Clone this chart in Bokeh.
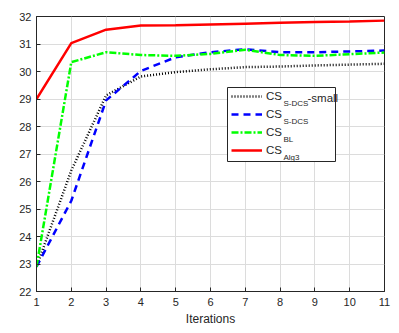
import math
from bokeh.plotting import figure
from bokeh.models import Legend, LegendItem, Label, FixedTicker, Range1d, BoxAnnotation
from bokeh.embed import file_html
from bokeh.resources import INLINE

iterations = [1, 2, 3, 4, 5, 6, 7, 8, 9, 10, 11]
cs_sdcs_small = [22.9, 26.4, 29.13, 29.82, 29.98, 30.08, 30.16, 30.18, 30.22, 30.25, 30.28]
cs_sdcs = [22.9, 25.3, 28.95, 30.02, 30.52, 30.70, 30.81, 30.70, 30.70, 30.73, 30.76]
cs_bl = [22.9, 30.34, 30.70, 30.60, 30.57, 30.64, 30.79, 30.60, 30.57, 30.63, 30.69]
cs_alg3 = [29.0, 31.03, 31.52, 31.67, 31.68, 31.71, 31.74, 31.77, 31.80, 31.82, 31.85]

x_ticks = list(range(1, 12))
y_ticks = list(range(22, 33))

FONT = "Liberation Sans"
TXT = "#262626"

p = figure(width=399, height=333, output_backend="svg", toolbar_location=None,
           x_range=Range1d(1, 11), y_range=Range1d(22, 32),
           min_border_left=36, min_border_right=15, min_border_top=16, min_border_bottom=42)

p.outline_line_color = "#262626"
p.outline_line_width = 1
p.background_fill_color = "white"

for ax in (p.xaxis, p.yaxis):
    ax.major_tick_in = 4
    ax.major_tick_out = 0
    ax.minor_tick_line_color = None
    ax.axis_line_color = "#262626"
    ax.major_tick_line_color = "#262626"
    ax.major_label_text_font = FONT
    ax.major_label_text_font_size = "11px"
    ax.major_label_text_color = TXT

p.xaxis.ticker = FixedTicker(ticks=x_ticks)
p.yaxis.ticker = FixedTicker(ticks=y_ticks)
p.xaxis.major_label_standoff = 6
p.yaxis.major_label_standoff = 5
p.xaxis.axis_label = "Iterations"
p.xaxis.axis_label_text_font = FONT
p.xaxis.axis_label_text_font_style = "normal"
p.xaxis.axis_label_text_font_size = "12px"
p.xaxis.axis_label_text_color = TXT
p.xaxis.axis_label_standoff = 3

p.xgrid.grid_line_color = "#dcdcdc"
p.ygrid.grid_line_color = "#dcdcdc"
p.xgrid.grid_line_width = 1
p.ygrid.grid_line_width = 1

r1 = p.line(iterations, cs_sdcs_small, line_color="black", line_width=2.5, line_dash="1 2")
r2 = p.line(iterations, cs_sdcs, line_color="#0000ff", line_width=2.5, line_dash="7 5")
r3 = p.line(iterations, cs_bl, line_color="#00ff00", line_width=2.5, line_dash="7 2 2 2")
r4 = p.line(iterations, cs_alg3, line_color="#ff0000", line_width=2.5)

# legend frame (white box with border) drawn beneath the legend entries
p.add_layout(BoxAnnotation(left=191, right=299, bottom=130, top=204,
                           left_units="screen", right_units="screen",
                           bottom_units="screen", top_units="screen",
                           fill_color="white", fill_alpha=1,
                           line_color="#262626", line_width=1, line_alpha=1))

pad = "\u00a0" * 14
legend = Legend(items=[LegendItem(label="CS" + pad, renderers=[r1]),
                       LegendItem(label="CS" + pad, renderers=[r2]),
                       LegendItem(label="CS" + pad, renderers=[r3]),
                       LegendItem(label="CS" + pad, renderers=[r4])],
                location=(191, 130), orientation="vertical",
                glyph_width=31, glyph_height=14, label_height=14, spacing=4,
                padding=4, margin=0, label_standoff=4,
                label_text_font=FONT, label_text_font_size="11.5px", label_text_color=TXT,
                border_line_alpha=0, background_fill_alpha=0)
p.add_layout(legend, "center")

subs = ["S-DCS", "S-DCS", "BL", "Alg3"]
for i, s in enumerate(subs):
    p.add_layout(Label(x=247, y=193 - 4.5 - i * 18, x_units="screen", y_units="screen",
                       text=s, text_font=FONT, text_font_size="8px", text_color=TXT,
                       text_baseline="middle"))
p.add_layout(Label(x=271, y=194, x_units="screen", y_units="screen",
                   text="-small", text_font=FONT, text_font_size="11.5px", text_color=TXT,
                   text_baseline="middle"))

p.add_layout(Label(x=-29, y=137, x_units="screen", y_units="screen",
                   text="θ", text_font="DejaVu Serif", text_font_style="italic",
                   text_font_size="9px", text_color="#555555", angle=math.pi / 2,
                   text_baseline="middle", text_align="center"))
p.add_layout(Label(x=-26.5, y=148, x_units="screen", y_units="screen",
                   text="power", text_font="DejaVu Serif", text_font_style="italic",
                   text_font_size="6.5px", text_color="#555555", angle=math.pi / 2,
                   text_baseline="middle", text_align="center"))

open("out.html", "w").write(file_html(p, INLINE))
